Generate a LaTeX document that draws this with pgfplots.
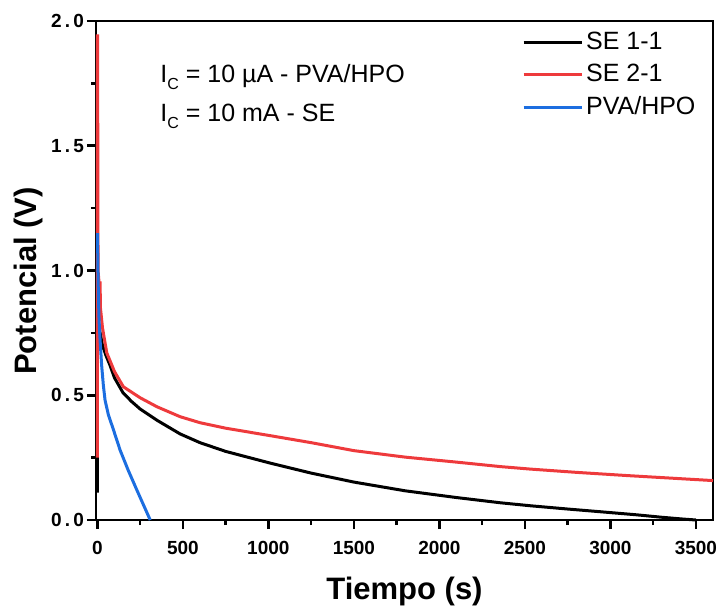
\documentclass[border=0pt]{standalone}
\usepackage{fontspec}
\setmainfont{Liberation Sans}
\usepackage{pgfplots}
\pgfplotsset{compat=1.18}
\definecolor{cred}{RGB}{238,58,60}
\definecolor{cblue}{RGB}{28,110,224}
\newcommand{\yl}[2]{\textbf{#1\kern1.6pt.\kern1.6pt#2}}
\begin{document}
\begin{tikzpicture}
\begin{axis}[
  scale only axis=true,
  width=308.5pt, height=249.5pt,
  xmin=-8, xmax=3600, ymin=0, ymax=2.0,
  xtick={0,500,1000,1500,2000,2500,3000,3500},
  ytick={0,0.5,1.0,1.5,2.0},
  yticklabels={\yl{0}{0},\yl{0}{5},\yl{1}{0},\yl{1}{5},\yl{2}{0}},
  minor x tick num=1, minor y tick num=1,
  xtick pos=left, ytick pos=left,
  tick align=outside,
  major tick length=4.5pt, minor tick length=2.5pt,
  every tick/.style={line width=1.3pt, black},
  axis line style={line width=1.3pt},
  /pgf/number format/assume math mode=true,
  xticklabel style={/pgf/number format/1000 sep={}, yshift=-2.5pt},
  yticklabel style={xshift=2pt},
  ticklabel style={font=\fontsize{9.5}{11}\selectfont\bfseries},
  xlabel={Tiempo (s)},
  label style={font=\fontsize{15.5}{18}\selectfont\bfseries},
  xlabel style={at={(axis description cs:0.5,0)}, anchor=base, yshift=-39.5pt},
  legend style={draw=none, fill=none, at={(axis description cs:0.69,0.985)}, anchor=north west,
    font=\fontsize{12.5}{14}\selectfont, row sep=3pt, inner sep=0pt,
    nodes={inner sep=1.5pt}},
  legend cell align=left,
  legend image code/.code={\draw[#1] (0pt,0pt) -- (29pt,0pt);},
  clip=false,
]
\addplot[black, line width=1.5pt] coordinates {
(0,0.11) (0,0.9) (3,0.82) (8,0.78) (16,0.75) (30,0.70) (50,0.66) (74,0.62) (100,0.57)
(150,0.51) (200,0.475) (250,0.445) (348,0.40) (484,0.345) (600,0.31) (750,0.275)
(1011,0.228) (1250,0.188) (1500,0.152) (1800,0.117) (2100,0.09) (2357,0.069)
(2533,0.057) (2750,0.044) (2943,0.033) (3150,0.021) (3300,0.011) (3420,0.004) (3500,0.0)
};
\addlegendentry{SE 1-1}
\addplot[cred, line width=1.5pt] coordinates {
(0,0.25) (0,1.94) (1,1.94) (2,1.67) (4,1.0) (10,0.95) (16,0.95) (18,0.85) (30,0.77)
(55,0.67) (100,0.595) (152,0.534) (250,0.49) (348,0.454) (484,0.414) (600,0.39)
(750,0.368) (1011,0.338) (1250,0.31) (1500,0.278) (1800,0.252) (2100,0.232)
(2357,0.214) (2533,0.204) (2800,0.191) (3100,0.178) (3400,0.166) (3600,0.158)
};
\addlegendentry{SE 2-1}
\addplot[cblue, line width=1.5pt] coordinates {
(1,1.15) (3,1.02) (6,0.9) (10,0.8) (16,0.72) (25,0.62) (35,0.54) (45,0.48) (65,0.42)
(90,0.37) (133,0.28) (180,0.20) (231,0.12) (270,0.06) (309,0)
};
\addlegendentry{PVA/HPO}
\node[anchor=base west, inner sep=0pt, font=\fontsize{12.5}{14}\selectfont] at (axis description cs:0.1037,0.8758)
  {I\raisebox{-3.5pt}{\fontsize{8}{9}\selectfont C} = 10 µA - PVA/HPO};
\node[anchor=base west, inner sep=0pt, font=\fontsize{12.5}{14}\selectfont] at (axis description cs:0.1037,0.798)
  {I\raisebox{-3.5pt}{\fontsize{8}{9}\selectfont C} = 10 mA - SE};
\node[rotate=90, anchor=base, inner sep=0pt, font=\fontsize{15.5}{18}\selectfont\bfseries]
  at ([xshift=-29.5pt]axis description cs:0,0.479) {Potencial (V)};
\end{axis}
\pgfresetboundingbox
\path[use as bounding box] (-48pt,-44.5pt) rectangle (312.5pt,260pt);
\end{tikzpicture}
\end{document}
